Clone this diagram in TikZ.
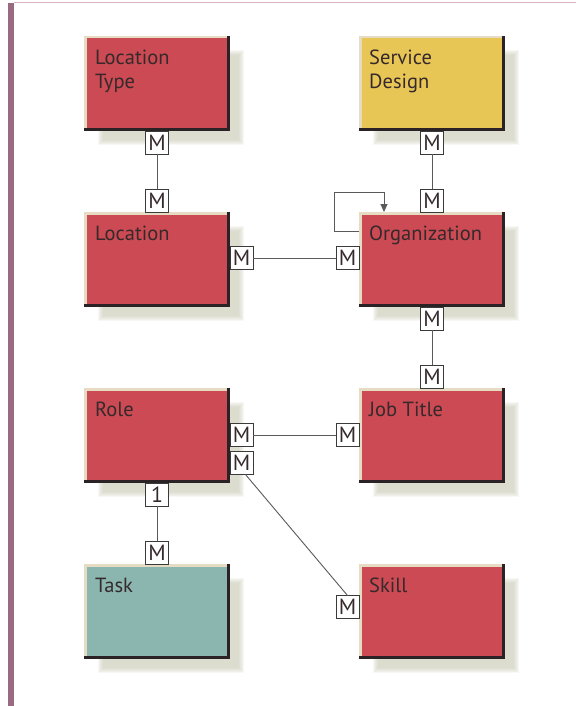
\documentclass[tikz,border=0pt]{standalone}
\usepackage{fontspec}
\setmainfont{PT Sans}
\usetikzlibrary{calc,backgrounds,arrows.meta}

\definecolor{entred}{HTML}{CB4A53}
\definecolor{entyellow}{HTML}{E8C656}
\definecolor{entteal}{HTML}{8AB6AF}
\definecolor{edgelight}{HTML}{E6DCC4}
\definecolor{edgedark}{HTML}{2A2224}
\definecolor{shadowc}{HTML}{C4C4AE}
\definecolor{inktext}{HTML}{35292B}
\definecolor{cardline}{HTML}{3A3A3A}
\definecolor{linegray}{HTML}{5A5A5A}
\definecolor{barpurple}{HTML}{9A6A80}
\definecolor{toprule}{HTML}{D6B5C1}

\tikzset{
  entity/.style={rectangle, minimum width=146pt, minimum height=95pt,
    inner sep=0pt, outer sep=0pt, anchor=north west, draw=none},
  etext/.style={anchor=north west, inner sep=0pt, align=left,
    font=\fontsize{20.5}{24}\selectfont, text=inktext},
  card/.style={rectangle, draw=cardline, line width=0.8pt, fill=white,
    minimum width=23pt, minimum height=23pt, inner sep=0pt, outer sep=0pt,
    font=\fontsize{22}{22}\selectfont, text=inktext},
  rel/.style={draw=linegray, line width=0.9pt},
}

\begin{document}
\begin{tikzpicture}[x=1pt, y=-1pt]
  \useasboundingbox (0,0) rectangle (576,706);

  % page frame: left bar and thin top rule
  \fill[barpurple] (8,3) rectangle (13.5,706);
  \draw[toprule, line width=1.5pt] (13.5,2.5) -- (576,2.5);

  % entities
  \node[entity, fill=entred]    (lt)    at (84,36)   {};
  \node[entity, fill=entyellow] (sd)    at (359,36)  {};
  \node[entity, fill=entred]    (loc)   at (84,212)  {};
  \node[entity, fill=entred]    (org)   at (359,212) {};
  \node[entity, fill=entred]    (role)  at (84,388)  {};
  \node[entity, fill=entred]    (jt)    at (359,388) {};
  \node[entity, fill=entteal]   (task)  at (84,564)  {};
  \node[entity, fill=entred]    (skill) at (359,564) {};

  % bevelled edges
  \foreach \n in {lt,sd,loc,org,role,jt,task,skill} {
    \draw[line width=2.5pt, draw=edgelight, line join=miter]
      ($(\n.south west)+(1.25,0)$) -- ($(\n.north west)+(1.25,1.25)$) -- ($(\n.north east)+(0,1.25)$);
    \draw[line width=3pt, draw=edgedark, line join=miter]
      ($(\n.north east)+(-1.5,0)$) -- ($(\n.south east)+(-1.5,-1.5)$) -- ($(\n.south west)+(0,-1.5)$);
  }

  % white sheet and soft drop shadows behind the entities
  \begin{scope}[on background layer]
    \fill[white] (13.5,3.5) rectangle (576,706);
    \foreach \n in {lt,sd,loc,org,role,jt,task,skill} {
      \foreach \k in {0,...,5} {
        \fill[shadowc, opacity=0.13]
          ($(\n.north west)+(14+\k,14+\k)$) rectangle ($(\n.south east)+(14-\k,14-\k)$);
      }
    }
  \end{scope}

  % entity names
  \node[etext] (lt-t)    at ($(lt.north west)+(11,14)$)    {Location\\Type};
  \node[etext] (sd-t)    at ($(sd.north west)+(10,14)$)    {Service\\Design};
  \node[etext] (loc-t)   at ($(loc.north west)+(11,14)$)   {Location};
  \node[etext] (org-t)   at ($(org.north west)+(10,14)$)   {Organization};
  \node[etext] (role-t)  at ($(role.north west)+(11,14)$)  {Role};
  \node[etext] (jt-t)    at ($(jt.north west)+(10,14)$)    {Job Title};
  \node[etext] (task-t)  at ($(task.north west)+(11,14)$)  {Task};
  \node[etext] (skill-t) at ($(skill.north west)+(10,14)$) {Skill};

  % Location Type -- Location
  \node[card, anchor=north] (lt-m)  at (lt.south)  {M};
  \node[card, anchor=south] (loc-m1) at (loc.north) {M};
  \draw[rel] (lt-m) -- (loc-m1);

  % Location -- Organization
  \node[card, anchor=west] (loc-m2) at ($(loc.north east)+(0,46)$) {M};
  \node[card, anchor=east] (org-m1) at ($(org.north west)+(0,46)$) {M};
  \draw[rel] (loc-m2) -- (org-m1);

  % Service Design -- Organization
  \node[card, anchor=north] (sd-m)   at (sd.south)  {M};
  \node[card, anchor=south] (org-m2) at (org.north) {M};
  \draw[rel] (sd-m) -- (org-m2);

  % Organization self reference
  \coordinate (loop-a) at ($(org.north west)+(0,19)$);
  \coordinate (loop-b) at ($(org.north west)+(25,0)$);
  \draw[rel, -{Triangle[length=8pt,width=7pt]}]
    (loop-a) -| ++(-25,-39) -| (loop-b);

  % Organization -- Job Title
  \node[card, anchor=north] (org-m3) at (org.south) {M};
  \node[card, anchor=south] (jt-m1)  at (jt.north)  {M};
  \draw[rel] (org-m3) -- (jt-m1);

  % Role -- Job Title
  \node[card, anchor=west] (role-m1) at ($(role.north east)+(0,47)$) {M};
  \node[card, anchor=east] (jt-m2)   at ($(jt.north west)+(0,47)$)   {M};
  \draw[rel] (role-m1) -- (jt-m2);

  % Role -- Skill
  \node[card, anchor=north west] (role-m2) at ($(role-m1.south west)+(0,5)$) {M};
  \node[card, anchor=east] (skill-m) at ($(skill.north west)+(0,43)$) {M};
  \draw[rel] ($(role-m2.south)+(4,0)$) -- (skill-m.north);

  % Role -- Task
  \node[card, anchor=north] (role-1) at (role.south) {1};
  \node[card, anchor=south] (task-m) at (task.north) {M};
  \draw[rel] (role-1) -- (task-m);
\end{tikzpicture}
\end{document}
